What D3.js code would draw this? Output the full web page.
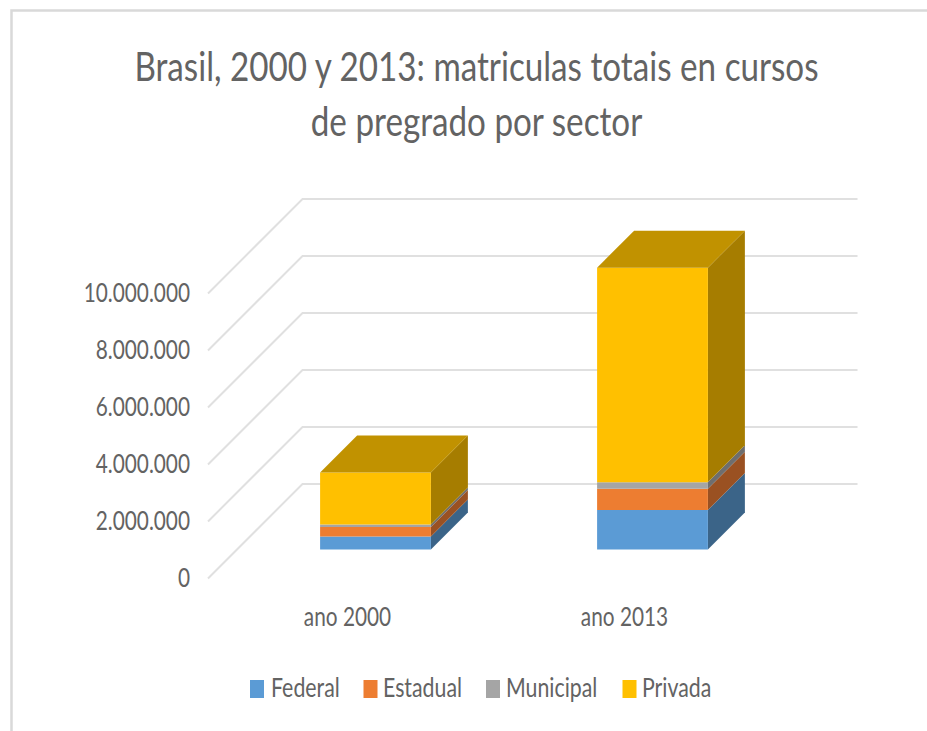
<!DOCTYPE html>
<html>
<head>
<meta charset="utf-8">
<script src="https://cdn.jsdelivr.net/npm/d3@7"></script>
<style>
  html, body { margin: 0; padding: 0; background: #fff; }
  text { font-family: Lato, "Open Sans", sans-serif; fill: #636363; }
</style>
</head>
<body>
<div id="chart"></div>
<script>
// Data
const titleLines = ["Brasil, 2000 y 2013: matriculas totais en cursos", "de pregrado por sector"];
const categories = ["ano 2000", "ano 2013"];
const seriesNames = ["Federal", "Estadual", "Municipal", "Privada"];
const federal = [460000, 1390000];
const estadual = [330000, 740000];
const municipal = [90000, 230000];
const privada = [1820000, 7530000];
const yTicks = [0, 2000000, 4000000, 6000000, 8000000, 10000000];

const frontColors = ["#5b9bd5", "#ed7d31", "#a5a5a5", "#ffc000"];
const sideColors = ["#3b6488", "#9a5122", "#6e6e6e", "#a67d00"];
const topColor = "#c19200";

const svg = d3.select("#chart").append("svg")
    .attr("width", 927)
    .attr("height", 731)
    .style("display", "block");

// Chart frame
svg.append("path")
    .attr("d", "M927,10.5H11.5V731")
    .attr("fill", "none")
    .attr("stroke", "#d9d9d9")
    .attr("stroke-width", 2.5);

// Title
svg.selectAll(".title")
    .data(titleLines)
    .enter()
    .append("text")
    .attr("class", "title")
    .attr("text-anchor", "middle")
    .attr("transform", (d, i) => `translate(476.5,${81 + i * 55}) scale(0.81,1)`)
    .attr("font-size", 41)
    .text(d => d);

// Scales for the front plane of the 3D box
const y = d3.scaleLinear().domain([0, 10000000]).range([578.5, 293.5]);
const x = d3.scaleBand().domain(categories).range([208, 762]).paddingInner(0.6).paddingOuter(0.3);

// Depth goes up and to the right
const wallDepth = 94.5;
const barFront = 29;
const barBack = 66;
const project = (px, value, depth) => [px + depth, y(value) - depth];
const line = d3.line();

// Gridlines: side wall and back wall
svg.append("g")
    .selectAll("path")
    .data(yTicks)
    .enter()
    .append("path")
    .attr("d", d => line([
        project(208, d, 0),
        project(208, d, wallDepth),
        project(763, d, wallDepth)
    ]))
    .attr("fill", "none")
    .attr("stroke", "#e0e0e0")
    .attr("stroke-width", 2);

// Stacked bars
const stack = d3.stack().keys(seriesNames.map((s, i) => i));
const rows = categories.map((c, j) => [federal[j], estadual[j], municipal[j], privada[j]]);
const stacked = stack(rows);

const poly = pts => line(pts) + "Z";

categories.forEach((cat, j) => {
    const x0 = x(cat);
    const x1 = x0 + x.bandwidth();
    const bars = svg.append("g").attr("class", "bar");

    stacked.forEach((layer, i) => {
        const [v0, v1] = layer[j];
        // right side
        bars.append("path")
            .attr("d", poly([
                project(x1, v0, barFront),
                project(x1, v1, barFront),
                project(x1, v1, barBack),
                project(x1, v0, barBack)
            ]))
            .attr("fill", sideColors[i]);
        // front
        bars.append("path")
            .attr("d", poly([
                project(x0, v0, barFront),
                project(x1, v0, barFront),
                project(x1, v1, barFront),
                project(x0, v1, barFront)
            ]))
            .attr("fill", frontColors[i]);
    });

    // top of the last series
    const total = stacked[stacked.length - 1][j][1];
    bars.append("path")
        .attr("d", poly([
            project(x0, total, barFront),
            project(x1, total, barFront),
            project(x1, total, barBack),
            project(x0, total, barBack)
        ]))
        .attr("fill", topColor);
});

// Axes
const locale = d3.formatLocale({ decimal: ",", thousands: ".", grouping: [3], currency: ["", ""] });

const yAxis = svg.append("g")
    .attr("transform", "translate(190,1.5)")
    .call(d3.axisLeft(y).tickValues(yTicks).tickFormat(locale.format(",d")).tickSize(0).tickPadding(0));
yAxis.select(".domain").remove();

const xAxis = svg.append("g")
    .attr("transform", "translate(1,619)")
    .call(d3.axisBottom(x).tickSize(0).tickPadding(0));
xAxis.select(".domain").remove();

svg.selectAll(".tick text")
    .attr("font-family", null)
    .style("font-size", "26px")
    .attr("dy", null)
    .attr("dominant-baseline", "middle")
    .attr("y", 0);

yAxis.selectAll(".tick text").attr("transform", "scale(0.8,1)").attr("x", 0);
xAxis.selectAll(".tick text").attr("transform", "scale(0.8,1)");

// Legend
const legendSquares = [250, 363.5, 486, 622.5];
const legendLabels = [271, 383, 506, 642];
const legend = svg.append("g");
seriesNames.forEach((name, i) => {
    legend.append("rect")
        .attr("x", legendSquares[i])
        .attr("y", 680)
        .attr("width", 14)
        .attr("height", 18)
        .attr("fill", frontColors[i]);
    legend.append("text")
        .attr("transform", `translate(${legendLabels[i]},697) scale(0.82,1)`)
        .attr("font-size", 26)
        .text(name);
});
</script>
</body>
</html>
